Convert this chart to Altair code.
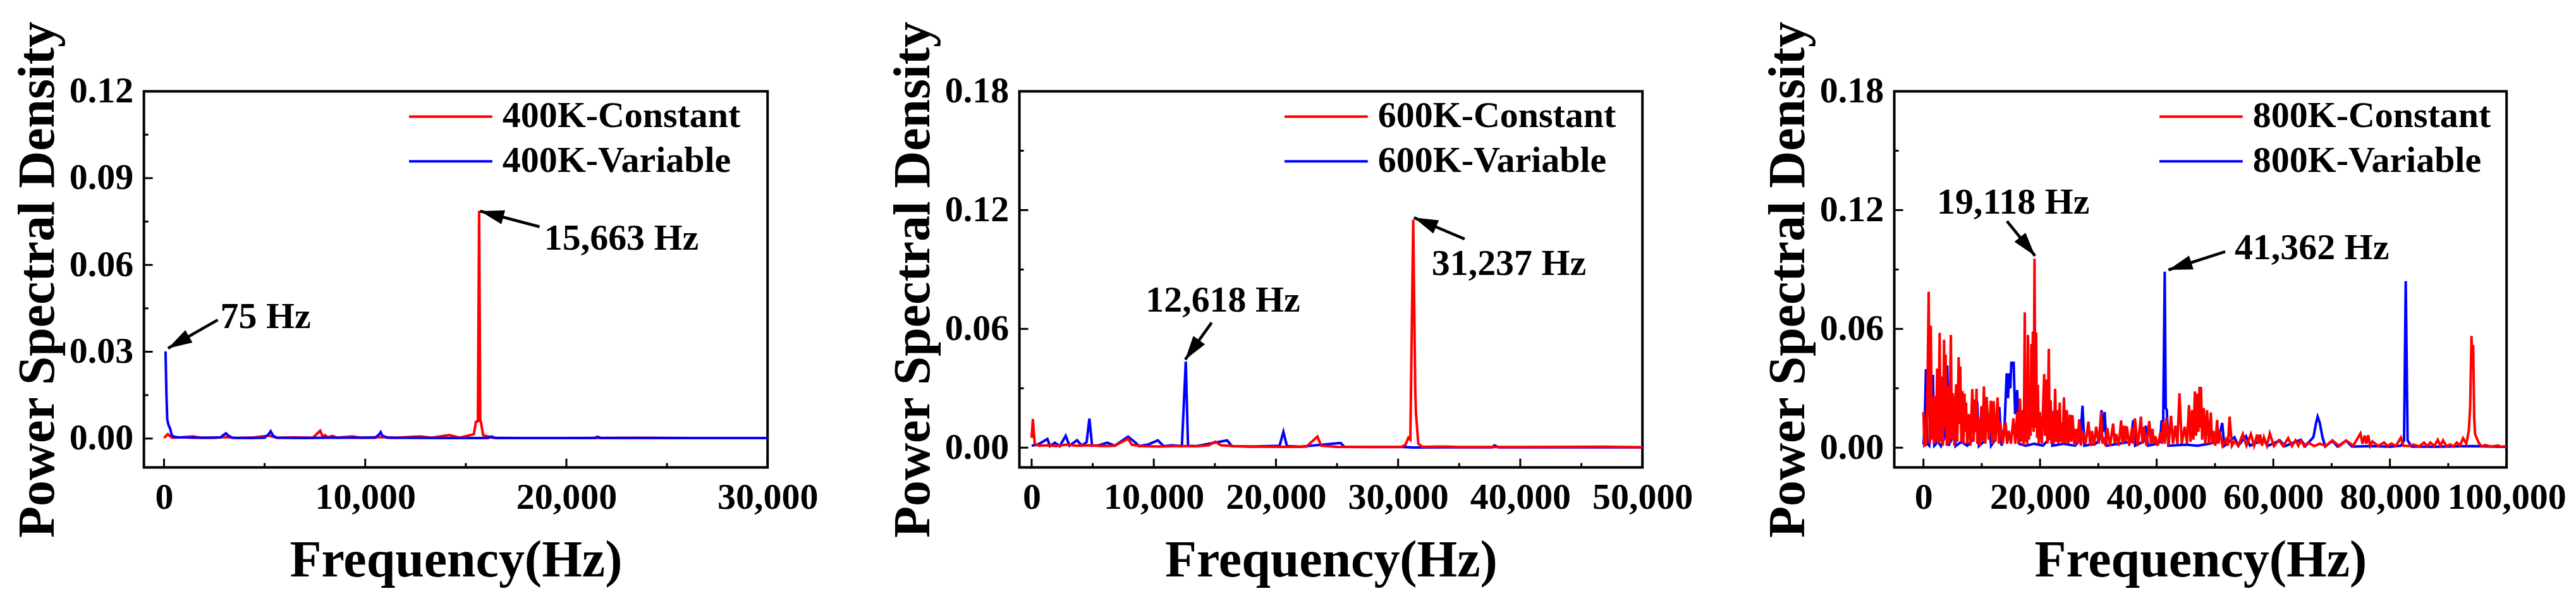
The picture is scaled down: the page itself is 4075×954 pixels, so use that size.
import math

import altair as alt
import pandas as pd

RED = "#FF0000"
BLUE = "#0000FF"
FONT = "Liberation Serif"
HEIGHT = 596

# ---------------- 400 K ----------------
LABELS_400 = ["400K-Constant", "400K-Variable"]
PSD_400_CONST = [
    (0, 0.0002), (182, 0.0015), (400, 0.0003), (800, 0.0004), (1445, 0.0007),
    (1800, 0.0003), (2500, 0.0003), (3075, 0.0005), (3600, 0.0002), (4500, 0.0004),
    (5215, 0.0010), (5600, 0.0003), (6500, 0.0004), (7400, 0.0003), (7760, 0.0027),
    (7900, 0.0005), (8000, 0.0012), (8150, 0.0004), (8370, 0.0009), (8600, 0.0003),
    (9350, 0.0007), (9800, 0.0003), (10780, 0.0005), (11500, 0.0003), (12750, 0.0007),
    (13300, 0.0003), (14180, 0.0012), (14700, 0.0003), (15400, 0.0015), (15505, 0.0058),
    (15600, 0.0060), (15663, 0.0787), (15720, 0.0060), (15750, 0.0058), (15860, 0.0012),
    (16320, 0.0003), (17500, 0.0002), (20000, 0.0002), (23450, 0.0003), (26000, 0.0002),
    (30000, 0.0002),
]
PSD_400_VAR = [
    (75, 0.0301), (120, 0.0150), (160, 0.0065), (230, 0.0045), (300, 0.0035),
    (380, 0.0012), (500, 0.0006), (700, 0.0004), (1000, 0.0004), (1445, 0.0003),
    (2200, 0.0003), (2800, 0.0004), (2950, 0.0012), (3075, 0.0018), (3200, 0.0010),
    (3400, 0.0003), (4300, 0.0002), (5000, 0.0003), (5200, 0.0015), (5300, 0.0025),
    (5420, 0.0010), (5600, 0.0003), (7000, 0.0002), (8000, 0.0003), (10500, 0.0003),
    (10700, 0.0015), (10770, 0.0022), (10850, 0.0010), (11100, 0.0003), (14000, 0.0002),
    (16100, 0.0002), (16280, 0.0007), (16450, 0.0002), (21400, 0.0002), (21560, 0.0006),
    (21700, 0.0002), (30000, 0.0002),
]
X_TICKS_400 = [0, 10000, 20000, 30000]
X_MINOR_400 = [5000, 15000, 25000]
Y_TICKS_400 = [0.0, 0.03, 0.06, 0.09, 0.12]
Y_MINOR_400 = [0.015, 0.045, 0.075, 0.105]
# text, text x, text baseline y, arrow tail x, tail y, arrow tip x, tip y
ANNOT_400 = [
    ("75 Hz", 2800, 0.0382, 2670, 0.0410, 200, 0.0312),
    ("15,663 Hz", 18895, 0.0653, 18666, 0.0732, 15710, 0.0786),
]

# ---------------- 600 K ----------------
LABELS_600 = ["600K-Constant", "600K-Variable"]
PSD_600_CONST = [
    (0, 0.0050), (100, 0.0145), (250, 0.0020), (600, 0.0010), (1300, 0.0012),
    (2000, 0.0008), (2800, 0.0015), (3700, 0.0010), (4700, 0.0012), (5800, 0.0008),
    (6800, 0.0010), (7900, 0.0045), (8200, 0.0015), (9000, 0.0008), (10500, 0.0006),
    (12000, 0.0009), (13500, 0.0007), (14500, 0.0012), (15030, 0.0030), (15500, 0.0012),
    (16500, 0.0008), (17800, 0.0006), (19000, 0.0005), (21000, 0.0004), (22500, 0.0006),
    (23400, 0.0056), (23700, 0.0010), (25000, 0.0004), (28000, 0.0003), (30300, 0.0004),
    (30600, 0.0015), (30840, 0.0050), (31000, 0.0040), (31237, 0.1152), (31400, 0.0300),
    (31460, 0.0177), (31650, 0.0020), (32000, 0.0004), (33500, 0.0006), (35000, 0.0003),
    (40000, 0.0003), (47000, 0.0005), (50000, 0.0002),
]
PSD_600_VAR = [
    (0, 0.0010), (500, 0.0015), (1290, 0.0044), (1500, 0.0008), (1900, 0.0025),
    (2300, 0.0008), (2790, 0.0060), (3100, 0.0010), (3720, 0.0038), (4100, 0.0010),
    (4500, 0.0028), (4730, 0.0147), (4950, 0.0010), (5500, 0.0012), (6200, 0.0025),
    (6800, 0.0010), (7900, 0.0056), (8420, 0.0030), (8800, 0.0008), (9500, 0.0015),
    (10330, 0.0037), (10800, 0.0008), (11500, 0.0012), (12300, 0.0008), (12618, 0.0435),
    (12800, 0.0010), (13500, 0.0008), (16000, 0.0037), (16400, 0.0008), (18000, 0.0006),
    (20300, 0.0010), (20610, 0.0080), (20900, 0.0008), (22000, 0.0005), (25300, 0.0024),
    (25600, 0.0004), (30500, 0.0003), (31200, 0.0001), (37700, 0.0002), (37900, 0.0012),
    (38200, 0.0002), (50000, 0.0002),
]
X_TICKS_600 = [0, 10000, 20000, 30000, 40000, 50000]
X_MINOR_600 = [5000, 15000, 25000, 35000, 45000]
Y_TICKS_600 = [0.0, 0.06, 0.12, 0.18]
Y_MINOR_600 = [0.03, 0.09, 0.15]
ANNOT_600 = [
    ("12,618 Hz", 9330, 0.0686, 14736, 0.0632, 12572, 0.0445),
    ("31,237 Hz", 32746, 0.0871, 35446, 0.1054, 31300, 0.1162),
]

# ---------------- 800 K ----------------
LABELS_800 = ["800K-Constant", "800K-Variable"]
PSD_800_CONST = [
    (0, 0.0180), (150, 0.0010), (430, 0.0015), (650, 0.0200), (900, 0.0788),
    (1080, 0.0020), (1265, 0.0616), (1450, 0.0040), (1700, 0.0250), (1850, 0.0020),
    (1990, 0.0260), (2150, 0.0030), (2350, 0.0400), (2550, 0.0020), (2780, 0.0580),
    (2950, 0.0030), (3140, 0.0360), (3330, 0.0010), (3540, 0.0545), (3650, 0.0100),
    (3800, 0.0470), (4000, 0.0010), (4230, 0.0310), (4450, 0.0020), (4700, 0.0570),
    (4880, 0.0040), (5060, 0.0275), (5300, 0.0010), (5600, 0.0320), (5800, 0.0030),
    (6040, 0.0457), (6180, 0.0120), (6320, 0.0410), (6500, 0.0030), (6690, 0.0286),
    (6850, 0.0020), (7050, 0.0273), (7150, 0.0080), (7300, 0.0228), (7500, 0.0020),
    (7770, 0.0170), (8050, 0.0010), (8380, 0.0296), (8600, 0.0030), (8860, 0.0243),
    (8980, 0.0080), (9100, 0.0298), (9250, 0.0020), (9400, 0.0148), (9650, 0.0010),
    (9940, 0.0210), (10150, 0.0030), (10370, 0.0310), (10600, 0.0020), (10840, 0.0256),
    (11200, 0.0040), (11560, 0.0238), (11800, 0.0020), (12030, 0.0235), (12350, 0.0030),
    (12720, 0.0254), (12950, 0.0020), (13190, 0.0127), (13600, 0.0020), (14090, 0.0127),
    (14350, 0.0020), (14640, 0.0085), (15000, 0.0020), (15430, 0.0148), (15750, 0.0020),
    (16080, 0.0180), (16300, 0.0020), (16550, 0.0249), (16780, 0.0030), (16990, 0.0190),
    (17200, 0.0010), (17380, 0.0683), (17500, 0.0030), (17640, 0.0116), (17780, 0.0020),
    (17930, 0.0570), (18100, 0.0040), (18250, 0.0317), (18380, 0.0060), (18500, 0.0524),
    (18630, 0.0100), (18760, 0.0587), (18900, 0.0080), (19050, 0.0955), (19200, 0.0100),
    (19330, 0.0582), (19480, 0.0050), (19620, 0.0317), (19780, 0.0020), (19950, 0.0180),
    (20300, 0.0020), (20710, 0.0372), (20850, 0.0060), (21000, 0.0344), (21250, 0.0020),
    (21500, 0.0500), (21650, 0.0040), (21760, 0.0241), (21950, 0.0020), (22120, 0.0185),
    (22350, 0.0020), (22590, 0.0298), (22750, 0.0030), (22910, 0.0190), (23150, 0.0020),
    (23380, 0.0228), (23550, 0.0030), (23670, 0.0127), (23880, 0.0020), (24100, 0.0254),
    (24350, 0.0020), (24580, 0.0190), (24850, 0.0020), (25120, 0.0167), (25350, 0.0030),
    (25550, 0.0164), (25900, 0.0010), (26200, 0.0095), (26450, 0.0020), (26710, 0.0143),
    (27000, 0.0010), (27280, 0.0085), (27800, 0.0020), (28300, 0.0132), (28600, 0.0010),
    (28910, 0.0085), (29250, 0.0010), (29630, 0.0106), (30050, 0.0020), (30470, 0.0178),
    (30700, 0.0020), (30900, 0.0053), (31200, 0.0010), (31510, 0.0100), (32000, 0.0010),
    (32530, 0.0122), (32800, 0.0020), (33070, 0.0069), (33500, 0.0010), (33900, 0.0138),
    (34150, 0.0020), (34440, 0.0111), (34650, 0.0030), (34880, 0.0108), (35300, 0.0010),
    (35780, 0.0100), (36000, 0.0020), (36250, 0.0148), (36750, 0.0010), (37300, 0.0157),
    (37550, 0.0020), (37770, 0.0106), (38250, 0.0010), (38740, 0.0134), (39000, 0.0020),
    (39280, 0.0095), (39500, 0.0020), (39750, 0.0058), (40200, 0.0010), (40660, 0.0079),
    (40900, 0.0020), (41130, 0.0132), (41400, 0.0020), (41670, 0.0153), (42050, 0.0010),
    (42460, 0.0161), (42800, 0.0020), (43190, 0.0111), (43550, 0.0020), (43910, 0.0275),
    (44300, 0.0020), (44810, 0.0106), (45200, 0.0020), (45540, 0.0215), (45800, 0.0030),
    (46080, 0.0190), (46300, 0.0040), (46550, 0.0284), (46750, 0.0060), (46980, 0.0273),
    (47150, 0.0080), (47340, 0.0307), (47450, 0.0100), (47600, 0.0307), (47800, 0.0040),
    (48070, 0.0200), (48350, 0.0020), (48640, 0.0190), (48950, 0.0020), (49280, 0.0178),
    (49500, 0.0020), (49720, 0.0085), (50050, 0.0010), (50370, 0.0140), (50600, 0.0020),
    (50800, 0.0085), (51300, 0.0010), (51880, 0.0042), (52200, 0.0010), (52500, 0.0157),
    (52900, 0.0010), (53330, 0.0032), (54000, 0.0010), (54770, 0.0069), (55400, 0.0010),
    (56150, 0.0069), (56700, 0.0010), (57230, 0.0066), (57500, 0.0020), (57740, 0.0066),
    (58050, 0.0010), (58390, 0.0053), (58900, 0.0010), (59400, 0.0072), (60100, 0.0008),
    (60920, 0.0037), (61700, 0.0008), (62550, 0.0048), (63200, 0.0008), (63810, 0.0037),
    (64300, 0.0010), (64720, 0.0037), (65300, 0.0008), (65980, 0.0026), (67000, 0.0008),
    (68000, 0.0020), (69000, 0.0008), (70130, 0.0037), (71300, 0.0008), (72480, 0.0037),
    (73700, 0.0010), (74940, 0.0072), (75300, 0.0020), (75660, 0.0061), (75950, 0.0020),
    (76270, 0.0063), (76600, 0.0010), (77000, 0.0032), (78000, 0.0008), (78990, 0.0026),
    (79600, 0.0008), (80250, 0.0021), (81000, 0.0008), (81880, 0.0051), (82300, 0.0010),
    (83200, 0.0008), (84050, 0.0016), (85000, 0.0006), (85850, 0.0026), (86400, 0.0008),
    (86940, 0.0026), (87600, 0.0008), (88200, 0.0040), (88650, 0.0010), (89110, 0.0037),
    (89700, 0.0008), (90370, 0.0016), (90900, 0.0006), (91460, 0.0026), (92000, 0.0010),
    (92540, 0.0048), (93100, 0.0020), (93520, 0.0085), (93750, 0.0200), (93990, 0.0564),
    (94150, 0.0400), (94280, 0.0519), (94450, 0.0150), (94600, 0.0069), (95250, 0.0023),
    (95800, 0.0006), (96340, 0.0013), (97400, 0.0005), (98500, 0.0011), (99200, 0.0004),
    (99950, 0.0008),
]
PSD_800_VAR = [
    (0, 0.0016), (200, 0.0100), (430, 0.0397), (650, 0.0020), (1000, 0.0010),
    (1300, 0.0100), (1630, 0.0368), (1850, 0.0010), (2500, 0.0030), (3000, 0.0008),
    (3600, 0.0050), (4080, 0.0415), (4300, 0.0010), (4800, 0.0040), (5240, 0.0249),
    (5500, 0.0008), (6500, 0.0030), (7500, 0.0010), (8500, 0.0040), (9220, 0.0233),
    (9500, 0.0008), (10300, 0.0030), (11200, 0.0148), (11600, 0.0010), (12300, 0.0040),
    (13010, 0.0206), (13400, 0.0010), (13900, 0.0100), (14270, 0.0376), (14500, 0.0250),
    (14710, 0.0376), (14900, 0.0300), (15070, 0.0429), (15470, 0.0429), (15720, 0.0170),
    (15900, 0.0200), (16080, 0.0291), (16400, 0.0020), (17500, 0.0010), (19000, 0.0020),
    (20500, 0.0010), (21400, 0.0040), (21790, 0.0238), (22100, 0.0010), (24000, 0.0020),
    (26000, 0.0010), (26900, 0.0040), (27280, 0.0212), (27600, 0.0010), (29500, 0.0020),
    (30200, 0.0040), (30540, 0.0190), (30800, 0.0080), (31080, 0.0180), (31400, 0.0010),
    (33500, 0.0020), (35600, 0.0030), (35960, 0.0138), (36300, 0.0010), (37700, 0.0030),
    (38130, 0.0111), (38500, 0.0010), (40010, 0.0020), (40600, 0.0030), (40840, 0.0138),
    (41100, 0.0100), (41380, 0.0889), (41550, 0.0200), (41740, 0.0190), (42000, 0.0010),
    (45000, 0.0015), (47000, 0.0010), (49000, 0.0020), (50500, 0.0030), (51240, 0.0125),
    (51600, 0.0010), (53330, 0.0053), (54000, 0.0010), (55320, 0.0058), (56000, 0.0010),
    (58390, 0.0040), (59000, 0.0008), (61100, 0.0037), (62000, 0.0008), (64720, 0.0040),
    (65500, 0.0008), (66880, 0.0053), (67350, 0.0127), (67600, 0.0157), (67960, 0.0127),
    (68430, 0.0053), (68900, 0.0006), (70130, 0.0035), (71000, 0.0006), (72480, 0.0035),
    (73500, 0.0006), (77000, 0.0008), (80000, 0.0005), (81880, 0.0010), (82420, 0.0037),
    (82710, 0.0841), (83030, 0.0037), (83680, 0.0006), (88000, 0.0005), (94000, 0.0008),
    (100000, 0.0004),
]
X_TICKS_800 = [0, 20000, 40000, 60000, 80000, 100000]
X_MINOR_800 = [10000, 30000, 50000, 70000, 90000]
Y_TICKS_800 = [0.0, 0.06, 0.12, 0.18]
Y_MINOR_800 = [0.03, 0.09, 0.15]
ANNOT_800 = [
    ("19,118 Hz", 2320, 0.1183, 14320, 0.1144, 19143, 0.0969),
    ("41,362 Hz", 53355, 0.0951, 51750, 0.0990, 42015, 0.0898),
]

ARROW_HEAD = "M0,0L0.3,1L-0.3,1Z"


def to_df(pairs):
    return pd.DataFrame(pairs, columns=["f", "p"])


def make_panel(labels, const, var, xdom, ydom, xt, xm, yt, ym, annots, width, red_on_top):
    xs = alt.Scale(domain=xdom, nice=False, zero=False)
    ys = alt.Scale(domain=ydom, nice=False, zero=False)
    xe = alt.X(
        "f:Q",
        scale=xs,
        axis=alt.Axis(
            values=xt, format=",d", title="Frequency(Hz)", grid=False, ticks=False,
            tickSize=0, domain=False, labelPadding=19, titlePadding=30,
            labelFontSize=58, titleFontSize=82, labelFlush=False, labelOverlap=False,
            labelLimit=0,
        ),
    )
    ye = alt.Y(
        "p:Q",
        scale=ys,
        axis=alt.Axis(
            values=yt, format=".2f", title="Power Spectral Density", grid=False,
            ticks=False, tickSize=0, domain=False, labelPadding=17, titlePadding=8,
            labelFontSize=58, titleFontSize=82, labelFlush=False, labelOverlap=False,
            labelLimit=0,
        ),
    )

    red = alt.Chart(to_df(const)).mark_line(color=RED, strokeWidth=4).encode(x=xe, y=ye)
    blue = alt.Chart(to_df(var)).mark_line(color=BLUE, strokeWidth=4).encode(x=xe, y=ye)
    lines = [blue, red] if red_on_top else [red, blue]

    # inward ticks
    xmaj = alt.Chart(pd.DataFrame({"f": xt})).mark_rule(color="black", strokeWidth=3).encode(
        x=xe, y=alt.value(HEIGHT), y2=alt.value(HEIGHT - 14))
    xmin = alt.Chart(pd.DataFrame({"f": xm})).mark_rule(color="black", strokeWidth=3).encode(
        x=xe, y=alt.value(HEIGHT), y2=alt.value(HEIGHT - 7))
    ymaj = alt.Chart(pd.DataFrame({"p": yt})).mark_rule(color="black", strokeWidth=3).encode(
        y=ye, x=alt.value(0), x2=alt.value(14))
    ymin = alt.Chart(pd.DataFrame({"p": ym})).mark_rule(color="black", strokeWidth=3).encode(
        y=ye, x=alt.value(0), x2=alt.value(7))

    # annotations: text, arrow shaft, arrow head
    xspan = xdom[1] - xdom[0]
    yspan = ydom[1] - ydom[0]
    trows, srows, hrows = [], [], []
    for t, tf, tp, af, ap, bf, bp in annots:
        dx = (bf - af) / xspan * width
        dy = -(bp - ap) / yspan * HEIGHT
        ang = math.degrees(math.atan2(dx, -dy)) % 360
        trows.append({"t": t, "f": tf, "p": tp})
        srows.append({"f": af, "p": ap, "f2": bf, "p2": bp})
        hrows.append({"f": bf, "p": bp, "ang": ang})
    texts = alt.Chart(pd.DataFrame(trows)).mark_text(
        align="left", baseline="alphabetic", font=FONT, fontWeight="bold", fontSize=58, color="black"
    ).encode(x=xe, y=ye, text="t:N")
    shafts = alt.Chart(pd.DataFrame(srows)).mark_rule(color="black", strokeWidth=4.5).encode(
        x=xe, y=ye, x2="f2:Q", y2="p2:Q")
    heads = alt.Chart(pd.DataFrame(hrows)).mark_point(
        shape=ARROW_HEAD, filled=True, size=5776, color="black", opacity=1, strokeWidth=0
    ).encode(x=xe, y=ye, angle=alt.Angle("ang:Q", scale=None))

    # legend
    legend = []
    for lab, col, yy in [(labels[0], RED, 40), (labels[1], BLUE, 111)]:
        ldf = pd.DataFrame({"t": [lab]})
        legend.append(alt.Chart(ldf).mark_rule(color=col, strokeWidth=4).encode(
            x=alt.value(420), x2=alt.value(552), y=alt.value(yy)))
        legend.append(alt.Chart(ldf).mark_text(
            align="left", baseline="middle", font=FONT, fontWeight="bold", fontSize=58, color="black"
        ).encode(x=alt.value(568), y=alt.value(yy), text="t:N"))

    return alt.layer(
        *lines, xmaj, xmin, ymaj, ymin, shafts, heads, texts, *legend
    ).properties(width=width, height=HEIGHT)


p400 = make_panel(LABELS_400, PSD_400_CONST, PSD_400_VAR, [-1000, 30000], [-0.01, 0.12],
                  X_TICKS_400, X_MINOR_400, Y_TICKS_400, Y_MINOR_400, ANNOT_400, 988, False)
p600 = make_panel(LABELS_600, PSD_600_CONST, PSD_600_VAR, [-1000, 50000], [-0.01, 0.18],
                  X_TICKS_600, X_MINOR_600, Y_TICKS_600, Y_MINOR_600, ANNOT_600, 987, True)
p800 = make_panel(LABELS_800, PSD_800_CONST, PSD_800_VAR, [-5000, 100000], [-0.01, 0.18],
                  X_TICKS_800, X_MINOR_800, Y_TICKS_800, Y_MINOR_800, ANNOT_800, 970, True)

chart = (
    alt.hconcat(p400, p600, p800, spacing=399, bounds="flush")
    .properties(padding={"left": 8, "top": 22, "right": 5, "bottom": 5}, background="white")
    .configure_view(stroke="black", strokeWidth=4)
    .configure_axis(
        labelFont=FONT, titleFont=FONT, labelFontWeight="bold", titleFontWeight="bold",
        labelColor="black", titleColor="black",
    )
)

chart.save("out.html", embed_options={"renderer": "svg", "actions": False})
